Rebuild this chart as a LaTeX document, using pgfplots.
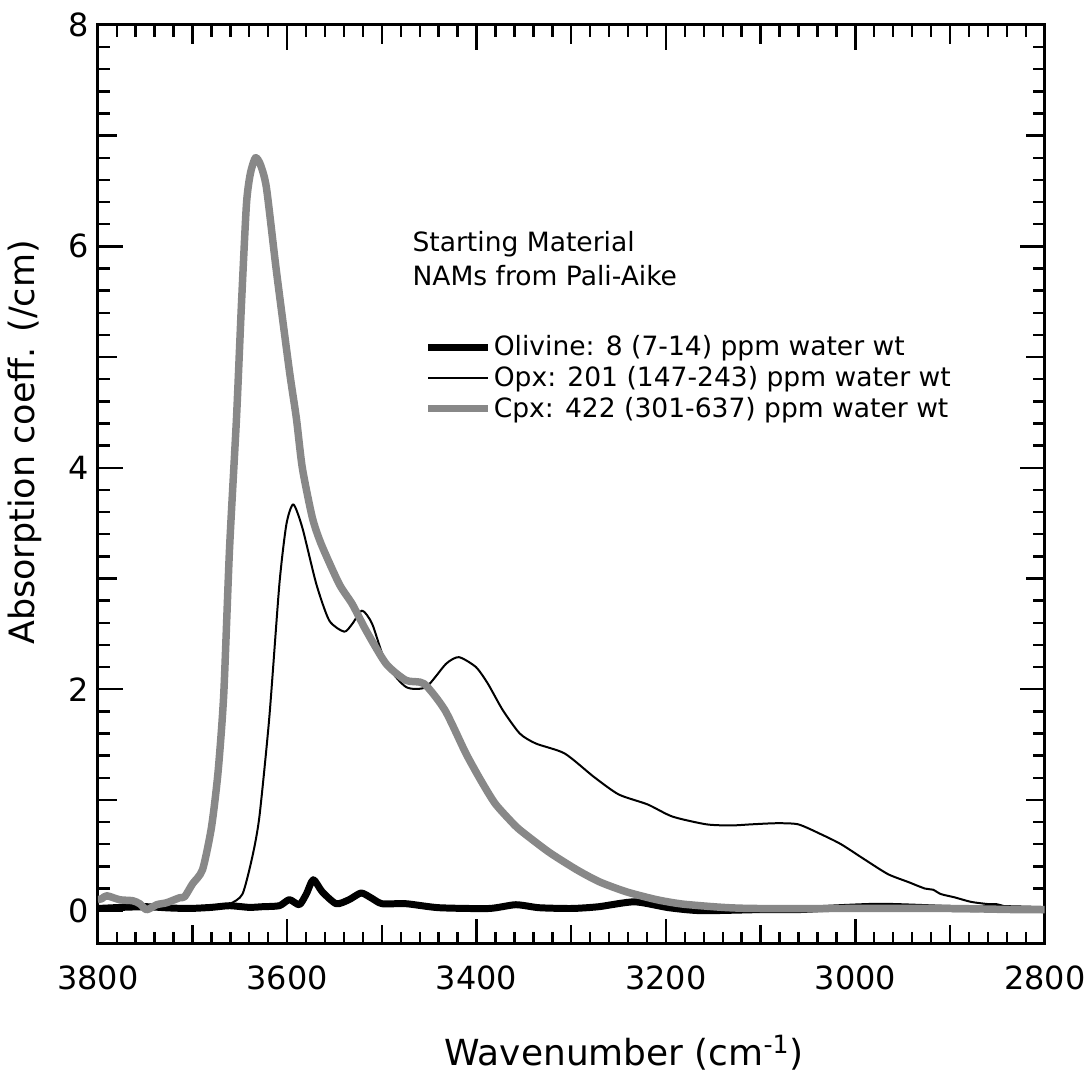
\documentclass[border=0pt]{standalone}
\usepackage{fontspec}
\setmainfont{DejaVu Sans}
\usepackage{pgfplots}
\pgfplotsset{compat=1.18}
\definecolor{cpxgray}{RGB}{136,136,136}
\begin{document}
\begin{tikzpicture}
\begin{axis}[
  scale only axis,
  width=474.5pt, height=460.5pt,
  xmin=2800, xmax=3800, ymin=-0.3, ymax=8,
  x dir=reverse,
  axis line style={line width=1.5pt},
  every tick/.style={line width=1.2pt, black},
  tick align=inside,
  xtick={2800,3000,3200,3400,3600,3800},
  ytick={0,2,4,6,8},
  minor x tick num=9,
  minor y tick num=9,
  major tick length=12.5pt,
  minor tick length=6pt,
  extra x ticks={2900,3100,3300,3500,3700},
  extra x tick labels={},
  extra y ticks={1,3,5,7},
  extra y tick labels={},
  extra tick style={major tick length=9.5pt},
  /pgf/number format/assume math mode=true,
  /pgf/number format/1000 sep={},
  ticklabel style={font=\fontsize{16}{19}\selectfont},
  xticklabel style={yshift=-7.5pt},
  yticklabel style={xshift=-1pt},
  xlabel={Wavenumber (cm\textsuperscript{-1})},
  ylabel={Absorption coeff. (/cm)},
  xlabel style={font=\fontsize{18}{21}\selectfont, yshift=-15.5pt, xshift=26.5pt},
  ylabel style={font=\fontsize{17.5}{21}\selectfont, yshift=6.5pt, xshift=21pt},
  legend cell align=left,
  legend style={at={(rel axis cs:0.3446,0.616)}, anchor=west, draw=none, fill=none,
    inner sep=0pt, row sep=1.8pt, font=\fontsize{13.3}{15.5}\selectfont,
    nodes={inner sep=1pt},
    /tikz/every even column/.append style={column sep=0pt}},
  legend image code/.code={\draw[#1] (0pt,0pt) -- (30pt,0pt);},
]
\addplot[black, line width=3.5pt, line join=round, smooth, tension=0.4] coordinates {
(3800,0.02) (3775,0.03) (3748.4,0.036) (3725,0.025) (3703.1,0.02) (3680,0.03) (3660.9,0.045) (3640,0.03)
(3626.1,0.036) (3608.2,0.045) (3597.7,0.10) (3587.2,0.054) (3579.8,0.15) (3572.4,0.28)
(3562.9,0.17) (3548.2,0.063) (3534.5,0.10) (3521.8,0.16) (3510.2,0.11) (3499.7,0.063)
(3474.4,0.063) (3439.6,0.027) (3386.9,0.02) (3358.5,0.054) (3334,0.027) (3299.5,0.02)
(3271,0.036) (3233.1,0.08) (3197,0.027) (3162.5,0.0) (3100,0.01) (3060,0.01) (2976,0.04)
(2900,0.02) (2850,0.02) (2800,0.01)
};
\addlegendentry{Olivine: 8 (7-14) ppm water wt}
\addplot[black, line width=1pt, line join=round, smooth, tension=0.4] coordinates {
(3800,0.02) (3700,0.02) (3675,0.03) (3660.9,0.06) (3647.2,0.15) (3636.7,0.49) (3629.3,0.85)
(3618.8,1.75) (3608.2,2.95) (3600.8,3.49) (3593.5,3.67) (3584.0,3.46) (3569.2,2.95)
(3555.5,2.62) (3539.7,2.52) (3531.3,2.59) (3520.8,2.71) (3510.2,2.59) (3495.5,2.23)
(3474.4,2.02) (3453.3,2.02) (3432.2,2.23) (3418.6,2.29) (3400.6,2.20) (3388.0,2.05)
(3372.2,1.81) (3354.3,1.60) (3337.4,1.51) (3306.9,1.42) (3276.3,1.21) (3249.9,1.05)
(3219.4,0.96) (3193.1,0.85) (3157.3,0.78) (3130.9,0.77) (3109.8,0.78) (3083.5,0.79)
(3060.3,0.78) (3036.1,0.69) (3015.0,0.60) (2989.7,0.46) (2965.5,0.33) (2944.4,0.26)
(2926.5,0.20) (2918.0,0.19) (2909.6,0.15) (2894.9,0.12) (2878.0,0.08) (2860.1,0.06)
(2851.7,0.06) (2842.2,0.04) (2828.5,0.01) (2800,0.01)
};
\addlegendentry{Opx: 201 (147-243) ppm water wt}
\addplot[cpxgray, line width=3.75pt, line join=round, smooth, tension=0.4] coordinates {
(3800,0.10) (3795.8,0.108) (3790.5,0.135) (3776.8,0.099) (3763.1,0.090) (3755.7,0.063)
(3748.4,0.009) (3737.8,0.054) (3727.3,0.072) (3713.6,0.117) (3708.3,0.126) (3699.9,0.243)
(3689.4,0.370) (3680,0.75) (3673,1.25) (3667,1.95) (3660.9,3.26) (3653.5,4.45)
(3648.3,5.47) (3643.0,6.38) (3638.8,6.66) (3633.5,6.80) (3628.3,6.74) (3621.9,6.53)
(3611.4,5.78) (3597.7,4.88) (3590.3,4.45) (3584.0,4.00) (3573.4,3.55) (3564.0,3.31)
(3545.0,2.95) (3531.3,2.77) (3516.6,2.53) (3495.5,2.23) (3474.4,2.08) (3455.4,2.05)
(3433.3,1.81) (3411.2,1.42) (3395,1.17) (3380.6,0.97) (3365,0.82) (3354.3,0.73) (3323.7,0.53) (3294.2,0.37)
(3270,0.26) (3241.5,0.17) (3210,0.10) (3182.5,0.06) (3140,0.03) (3104.5,0.02) (3000,0.02) (2900,0.02) (2830.6,0.01) (2800,0.01)
};
\addlegendentry{Cpx: 422 (301-637) ppm water wt}
\node[anchor=base west, font=\fontsize{13.3}{15.5}\selectfont, inner sep=0pt] at (rel axis cs:0.332,0.753) {Starting Material};
\node[anchor=base west, font=\fontsize{13.3}{15.5}\selectfont, inner sep=0pt] at (rel axis cs:0.332,0.716) {NAMs from Pali-Aike};
\end{axis}
\path (current axis.south west) ++(-49pt,-68pt) rectangle ([xshift=22.5pt,yshift=12.5pt]current axis.north east);
\end{tikzpicture}
\end{document}
